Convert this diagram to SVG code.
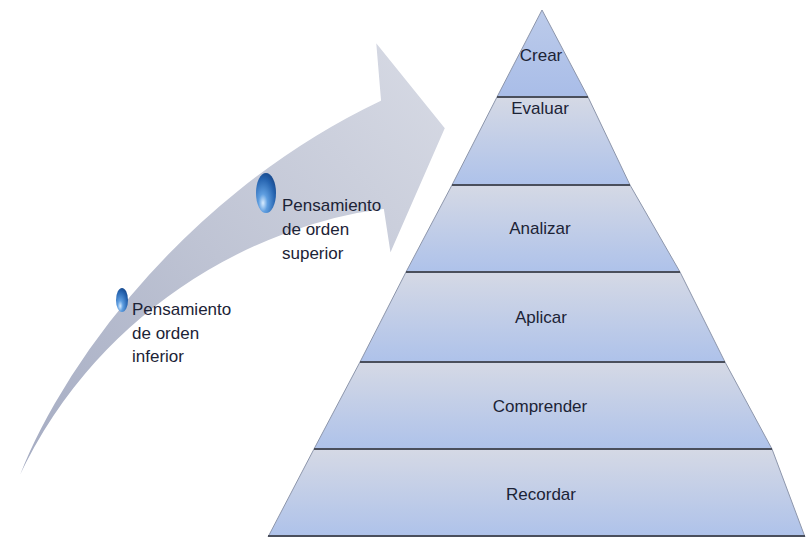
<svg xmlns="http://www.w3.org/2000/svg" width="806" height="538" viewBox="0 0 806 538">
<style>
.lbl{font-family:"Liberation Sans",Arial,sans-serif;font-size:17px;fill:#1c2336;text-anchor:middle}
.side{font-family:"Liberation Sans",Arial,sans-serif;font-size:17px;fill:#1c2336}
.band{stroke:none}
.sep{stroke:#4a4f5c;stroke-width:2}
</style>
<defs>
<linearGradient id="arrowGrad" x1="0" y1="1" x2="1" y2="0">
<stop offset="0" stop-color="#a3aac1"/>
<stop offset="0.5" stop-color="#bfc4d4"/>
<stop offset="1" stop-color="#d8dbe5"/>
</linearGradient>
<linearGradient id="bandGrad" x1="0" y1="0" x2="0" y2="1">
<stop offset="0" stop-color="#d5d9e5"/>
<stop offset="1" stop-color="#aec2ea"/>
</linearGradient>
<linearGradient id="topGrad" x1="0" y1="0" x2="0" y2="1">
<stop offset="0" stop-color="#bccbea"/>
<stop offset="1" stop-color="#a9bde8"/>
</linearGradient>
<radialGradient id="bubble" cx="0.35" cy="0.75" r="0.75">
<stop offset="0" stop-color="#d8ecff"/>
<stop offset="0.3" stop-color="#5f9ee0"/>
<stop offset="0.8" stop-color="#2664b0"/>
<stop offset="1" stop-color="#1b4f94"/>
</radialGradient>
</defs>

<g id="arrow">
<path d="M12,495 C45,390 170,200 380,100 L375,40 L446,128 L390,256 L383,210 C260,225 90,310 12,495 Z" fill="url(#arrowGrad)" stroke="#ffffff" stroke-width="2"/>
</g>

<g id="pyramid">
<g id="crear">
<polygon class="band" points="542,10 588,97 497,97" fill="url(#topGrad)"/>
<text class="lbl" x="541" y="61">Crear</text>
</g>
<g id="evaluar">
<polygon class="band" points="497,97 588,97 630,185 452,185" fill="url(#bandGrad)"/>
<text class="lbl" x="540" y="114">Evaluar</text>
</g>
<g id="analizar">
<polygon class="band" points="452,185 630,185 680,272 406,272" fill="url(#bandGrad)"/>
<text class="lbl" x="540" y="234">Analizar</text>
</g>
<g id="aplicar">
<polygon class="band" points="406,272 680,272 725,362 360,362" fill="url(#bandGrad)"/>
<text class="lbl" x="541" y="323">Aplicar</text>
</g>
<g id="comprender">
<polygon class="band" points="360,362 725,362 772,449 314,449" fill="url(#bandGrad)"/>
<text class="lbl" x="540" y="412">Comprender</text>
</g>
<g id="recordar">
<polygon class="band" points="314,449 772,449 805,537 268,537" fill="url(#bandGrad)"/>
<text class="lbl" x="541" y="500">Recordar</text>
</g>
<polyline points="268,537 314,449 360,362 406,272 452,185 497,97 542,10 588,97 630,185 680,272 725,362 772,449 805,537" fill="none" stroke="#8d96ab" stroke-width="1"/>
</g>

<g id="connectors">
<line class="sep" x1="497" y1="97" x2="588" y2="97"/>
<line class="sep" x1="452" y1="185" x2="630" y2="185"/>
<line class="sep" x1="406" y1="272" x2="680" y2="272"/>
<line class="sep" x1="360" y1="362" x2="725" y2="362"/>
<line class="sep" x1="314" y1="449" x2="772" y2="449"/>
<line class="sep" x1="268" y1="536" x2="805" y2="536"/>
</g>

<g id="superior">
<ellipse cx="266" cy="193" rx="10" ry="20" fill="url(#bubble)"/>
<text class="side" x="282" y="211">Pensamiento</text>
<text class="side" x="282" y="235">de orden</text>
<text class="side" x="282" y="259">superior</text>
</g>

<g id="inferior">
<ellipse cx="122" cy="300" rx="6" ry="12" fill="url(#bubble)"/>
<text class="side" x="132" y="315">Pensamiento</text>
<text class="side" x="132" y="339">de orden</text>
<text class="side" x="132" y="362">inferior</text>
</g>
</svg>
